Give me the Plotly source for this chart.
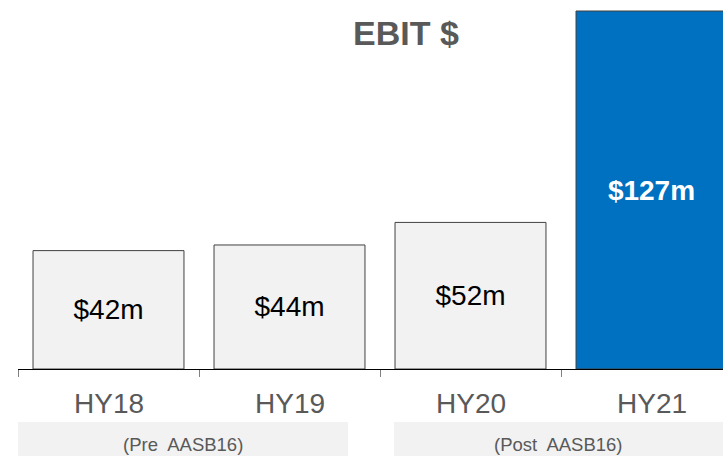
import plotly.graph_objects as go

# data
periods = ["HY18", "HY19", "HY20", "HY21"]
ebit = [42, 44, 52, 127]
bar_labels = ["$42m", "$44m", "$52m", "<b>$127m</b>"]
bar_colors = ["#f2f2f2", "#f2f2f2", "#f2f2f2", "#0070c0"]
label_colors = ["#000000", "#000000", "#000000", "#ffffff"]
group_labels = ["(Pre  AASB16)", "(Post  AASB16)"]

GREY = "#595959"
FONT = "Liberation Sans, Arial, sans-serif"

W, H = 723, 456
L, B = 18, 87
PW, PH = W - L, H - B
CAT_PX = 181.0  # pixels per category
PX_PER_UNIT = (369 - 11) / 127


def px_to_x(px):
    # page pixel -> x data value
    return (px - L) / CAT_PX - 0.5


fig = go.Figure()
fig.add_trace(go.Bar(
    x=periods,
    y=ebit,
    text=bar_labels,
    texttemplate="%{text}",
    textposition="inside",
    insidetextanchor="middle",
    textangle=0,
    textfont=dict(size=28, color=label_colors, family=FONT),
    marker=dict(color=bar_colors, line=dict(color="#404040", width=1)),
    hoverinfo="skip",
))

# category labels under the axis
for p in periods:
    fig.add_annotation(
        x=p, y=0, xref="x", yref="paper",
        yanchor="middle", yshift=-34,
        text=p, showarrow=False,
        font=dict(size=28, color=GREY, family=FONT),
    )

# grey group boxes with their captions
boxes = [(18, 348), (394, 740)]
for (p0, p1), lab in zip(boxes, group_labels):
    fig.add_shape(
        type="rect", xref="x", yref="paper",
        x0=px_to_x(p0), x1=px_to_x(p1), y0=-53 / PH, y1=-95 / PH,
        fillcolor="#f2f2f2", line=dict(width=0), layer="below",
    )
    fig.add_annotation(
        x=px_to_x((p0 + min(p1, 723)) / 2), y=0, xref="x", yref="paper",
        yanchor="middle", yshift=-75,
        text=lab, showarrow=False,
        font=dict(size=18.5, color=GREY, family=FONT),
    )

fig.add_annotation(
    x=(406 - L) / PW, y=1 - 33 / PH,
    xref="paper", yref="paper", xanchor="center", yanchor="middle",
    text="<b>EBIT $</b>", showarrow=False,
    font=dict(size=34, color=GREY, family=FONT),
)

fig.update_layout(
    width=W, height=H,
    margin=dict(l=L, r=0, t=0, b=B),
    paper_bgcolor="white", plot_bgcolor="white",
    bargap=0.166,
    showlegend=False,
    hovermode=False,
    font=dict(family=FONT),
    xaxis=dict(
        range=[-0.5, -0.5 + PW / CAT_PX],
        showticklabels=False,
        showline=True, linecolor="#000000", linewidth=1,
        ticks="outside", tickson="boundaries", ticklen=7,
        tickcolor="#808080", showgrid=False, zeroline=False,
    ),
    yaxis=dict(
        range=[0, PH / PX_PER_UNIT],
        visible=False, showgrid=False, zeroline=False,
    ),
)

fig.write_html(
    "out.html",
    config={"displayModeBar": False},
    post_script="document.body.style.margin='0';document.body.style.overflow='hidden';",
)
